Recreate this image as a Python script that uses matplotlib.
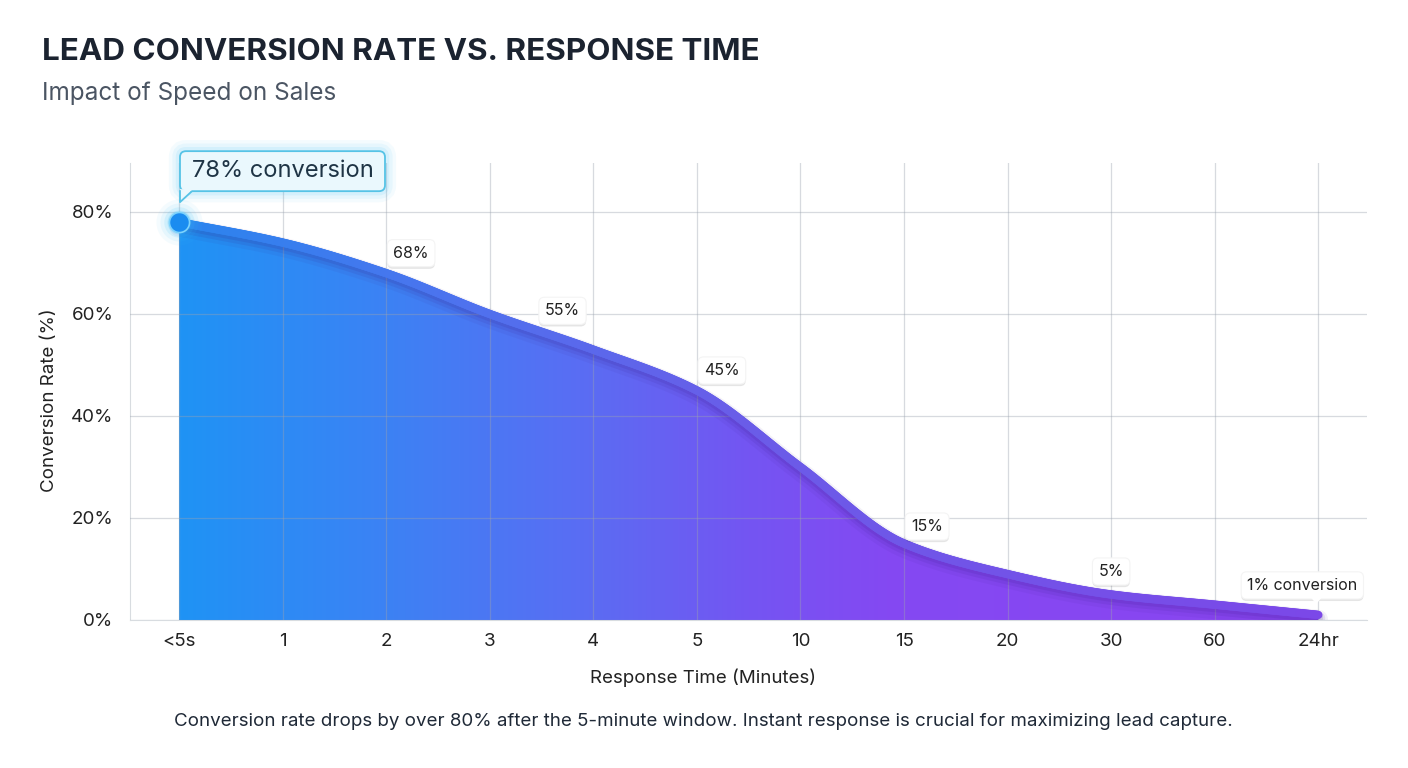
import numpy as np
import matplotlib
matplotlib.use("Agg")
import matplotlib.pyplot as plt
from matplotlib.colors import LinearSegmentedColormap
from matplotlib.collections import LineCollection
from matplotlib.patches import Polygon, FancyBboxPatch
from matplotlib.transforms import ScaledTranslation
import matplotlib.patheffects as pe

plt.rcParams['font.family'] = ['Inter', 'DejaVu Sans']

# data
categories = ['<5s', '1', '2', '3', '4', '5', '10', '15', '20', '30', '60', '24hr']
conversion = [78, 74, 68, 60, 53, 45, 30, 15, 9, 5, 3, 1]
label_pos = [2, 3.5, 5, 7, 9]
label_txt = ['68%', '55%', '45%', '15%', '5%']
label_off = [(25, 20), (21, 21), (25, 20), (23, 17), (0, 23)]  # px offsets
yticks = [0, 20, 40, 60, 80]


def pchip(x, y, xs):
    # monotone cubic, only used to draw a smooth line through the points
    x = np.asarray(x, float)
    y = np.asarray(y, float)
    h = np.diff(x)
    d = np.diff(y) / h
    m = np.zeros_like(y)
    m[0], m[-1] = d[0], d[-1]
    for k in range(1, len(x) - 1):
        if d[k - 1] * d[k] > 0:
            w1 = 2 * h[k] + h[k - 1]
            w2 = h[k] + 2 * h[k - 1]
            m[k] = (w1 + w2) / (w1 / d[k - 1] + w2 / d[k])
    i = np.clip(np.searchsorted(x, xs) - 1, 0, len(x) - 2)
    t = (xs - x[i]) / h[i]
    h00 = 2 * t**3 - 3 * t**2 + 1
    h10 = t**3 - 2 * t**2 + t
    h01 = -2 * t**3 + 3 * t**2
    h11 = t**3 - t**2
    return h00 * y[i] + h10 * h[i] * m[i] + h01 * y[i + 1] + h11 * h[i] * m[i + 1]


x = np.arange(len(categories))
xs = np.linspace(0, x[-1], 800)
ys = pchip(x, conversion, xs)

W, H = 1408, 768
fig = plt.figure(figsize=(W / 100, H / 100), dpi=100)
ax = fig.add_axes([130 / W, (H - 620) / H, (1367 - 130) / W, (620 - 163) / H])
ax.set_xlim(-0.473, 11.47)
ax.set_ylim(0, 89.6)

# gradient fill under the curve
fill_cmap = LinearSegmentedColormap.from_list('fill', [
    (0.0, '#1F93F5'), (0.18, '#3C82F4'), (0.36, '#5B6CF3'),
    (0.5, '#7455F2'), (0.62, '#8449F3'), (1.0, '#8A45F0')])
poly = Polygon(np.column_stack([np.r_[xs, xs[-1], xs[0]], np.r_[ys, 0, 0]]),
               closed=True, fc='none', ec='none', transform=ax.transData)
ax.add_patch(poly)
grad = np.linspace(0, 1, 512).reshape(1, -1)
im = ax.imshow(grad, extent=[0, x[-1], 0, 80], aspect='auto', cmap=fill_cmap,
               origin='lower', zorder=1)
im.set_clip_path(poly)

# grid drawn over the fill, faintly
ax.set_xticks(x)
ax.set_xticklabels(categories)
ax.set_yticks(yticks)
ax.set_yticklabels([f'{v}%' for v in yticks])
ax.grid(True, color='#9CA3AF', alpha=0.4, lw=0.9, zorder=2)
ax.set_axisbelow(False)
for s in ['top', 'right']:
    ax.spines[s].set_visible(False)
for s in ['left', 'bottom']:
    ax.spines[s].set_color('#D8DCE0')
    ax.spines[s].set_zorder(0)
ax.tick_params(length=0, labelsize=13.5, labelcolor='#222222')
ax.tick_params(axis='x', pad=9)
ax.tick_params(axis='y', pad=12)
ax.set_xlabel('Response Time (Minutes)', fontsize=13.5, color='#222222')
ax.set_ylabel('Conversion Rate (%)', fontsize=13.5, color='#222222')
ax.xaxis.set_label_coords((703 - 130) / 1237, -(678 - 620) / 457, transform=ax.transAxes)
ax.xaxis.label.set_va('center')
ax.yaxis.set_label_coords(-(130 - 50) / 1237, (620 - 400) / 457, transform=ax.transAxes)
ax.yaxis.label.set_va('center')

# soft shadow under the line
for lw, a, off in [(14, 0.06, 0.9), (10, 0.1, 0.7), (7, 0.12, 0.5)]:
    ax.plot(xs, ys - off, color='#3a1d8a', lw=lw, alpha=a, zorder=3,
            solid_capstyle='round')

# gradient line on top
line_cmap = LinearSegmentedColormap.from_list('line', [
    '#2A85EE', '#4E72EE', '#6A5CE8', '#7352E8', '#7B48E8'])
pts = np.column_stack([xs, ys]).reshape(-1, 1, 2)
segs = np.concatenate([pts[:-1], pts[1:]], axis=1)
lc = LineCollection(segs, cmap=line_cmap, linewidths=6, capstyle='round', zorder=4)
lc.set_array(xs[:-1] / x[-1])
ax.add_collection(lc)

# glowing start point
for s, a in [(1100, 0.05), (750, 0.08), (480, 0.12), (300, 0.18)]:
    ax.scatter([x[0]], [conversion[0]], s=s, color='#38BDF8', alpha=a, lw=0, zorder=5)
ax.scatter([x[0]], [conversion[0]], s=210, color='#1A8CF0', ec='#7DD3FC', lw=1.2, zorder=6)


def px_trans(xd, yd):
    # inch offsets relative to a data point
    return fig.dpi_scale_trans + ScaledTranslation(xd, yd, ax.transData)


# callout for the first point
tr = px_trans(x[0], conversion[0])
bx0, bx1, by0, by1 = 0.01, 2.06, 0.31, 0.71
for lw, a in [(16, 0.05), (11, 0.07), (6, 0.1)]:
    ax.add_patch(FancyBboxPatch((bx0, by0), bx1 - bx0, by1 - by0,
                                boxstyle='round,pad=0,rounding_size=0.06',
                                fc='none', ec='#38BDF8', lw=lw, alpha=a,
                                transform=tr, zorder=6, clip_on=False))
ax.add_patch(FancyBboxPatch((bx0, by0), bx1 - bx0, by1 - by0,
                            boxstyle='round,pad=0,rounding_size=0.06',
                            fc='#EAF8FD', ec='#56C3E6', lw=1.3,
                            transform=tr, zorder=7, clip_on=False))
ax.add_patch(Polygon([(bx0, by0 + 0.02), (bx0 + 0.13, by0 + 0.02), (bx0, 0.2)],
                     closed=True, fc='#EAF8FD', ec='none', transform=tr, zorder=8,
                     clip_on=False))
ax.plot([bx0, bx0, bx0 + 0.12], [by0 + 0.01, 0.2, by0], color='#56C3E6', lw=1.3,
        transform=tr, zorder=9, clip_on=False, solid_capstyle='butt')
ax.text((bx0 + bx1) / 2, (by0 + by1) / 2, f'{conversion[0]}% conversion',
        transform=tr, ha='center', va='center', fontsize=17, color='#1E3445', zorder=10)

# small value labels along the curve
box_kw = dict(boxstyle='round,pad=0.38,rounding_size=0.35', fc='white', ec='#F4F4F4', lw=0.8)
for p, t, (dx, dy) in zip(label_pos, label_txt, label_off):
    yv = pchip(x, conversion, np.array([p]))[0]
    a = ax.annotate(t, (p, yv), xytext=(dx * 0.72, dy * 0.72), textcoords='offset points',
                    ha='center', va='center', fontsize=11.5, color='#222222',
                    bbox=box_kw, zorder=8)
    a.get_bbox_patch().set_path_effects([
        pe.SimplePatchShadow(offset=(0, -1.5), shadow_rgbFace='#000000', alpha=0.1),
        pe.Normal()])

# end callout with a small tail
tr2 = px_trans(x[-1], conversion[-1])
end = ax.annotate(f'{conversion[-1]}% conversion', (x[-1], conversion[-1]),
                  xytext=(-16 * 0.72, 29.5 * 0.72), textcoords='offset points',
                  ha='center', va='center', fontsize=11.5, color='#222222',
                  bbox=box_kw, zorder=8, annotation_clip=False)
end.get_bbox_patch().set_path_effects([
    pe.SimplePatchShadow(offset=(0, -1.5), shadow_rgbFace='#000000', alpha=0.1),
    pe.Normal()])
ax.add_patch(Polygon([(-0.08, 0.18), (0.04, 0.18), (-0.02, 0.11)], closed=True,
                     fc='white', ec='none', transform=tr2, zorder=9, clip_on=False))

# titles and note
fig.text(42 / W, 1 - 52 / H, 'LEAD CONVERSION RATE VS. RESPONSE TIME', fontsize=22.6,
         fontweight='bold', color='#1B2330', va='center', ha='left')
fig.text(42 / W, 1 - 93 / H, 'Impact of Speed on Sales', fontsize=17.5,
         color='#4B5563', va='center', ha='left')
fig.text(703 / W, 1 - 722 / H,
         'Conversion rate drops by over 80% after the 5-minute window. '
         'Instant response is crucial for maximizing lead capture.',
         fontsize=13.5, color='#1F2937', ha='center', va='center')

fig.savefig('out.png', dpi=100)
